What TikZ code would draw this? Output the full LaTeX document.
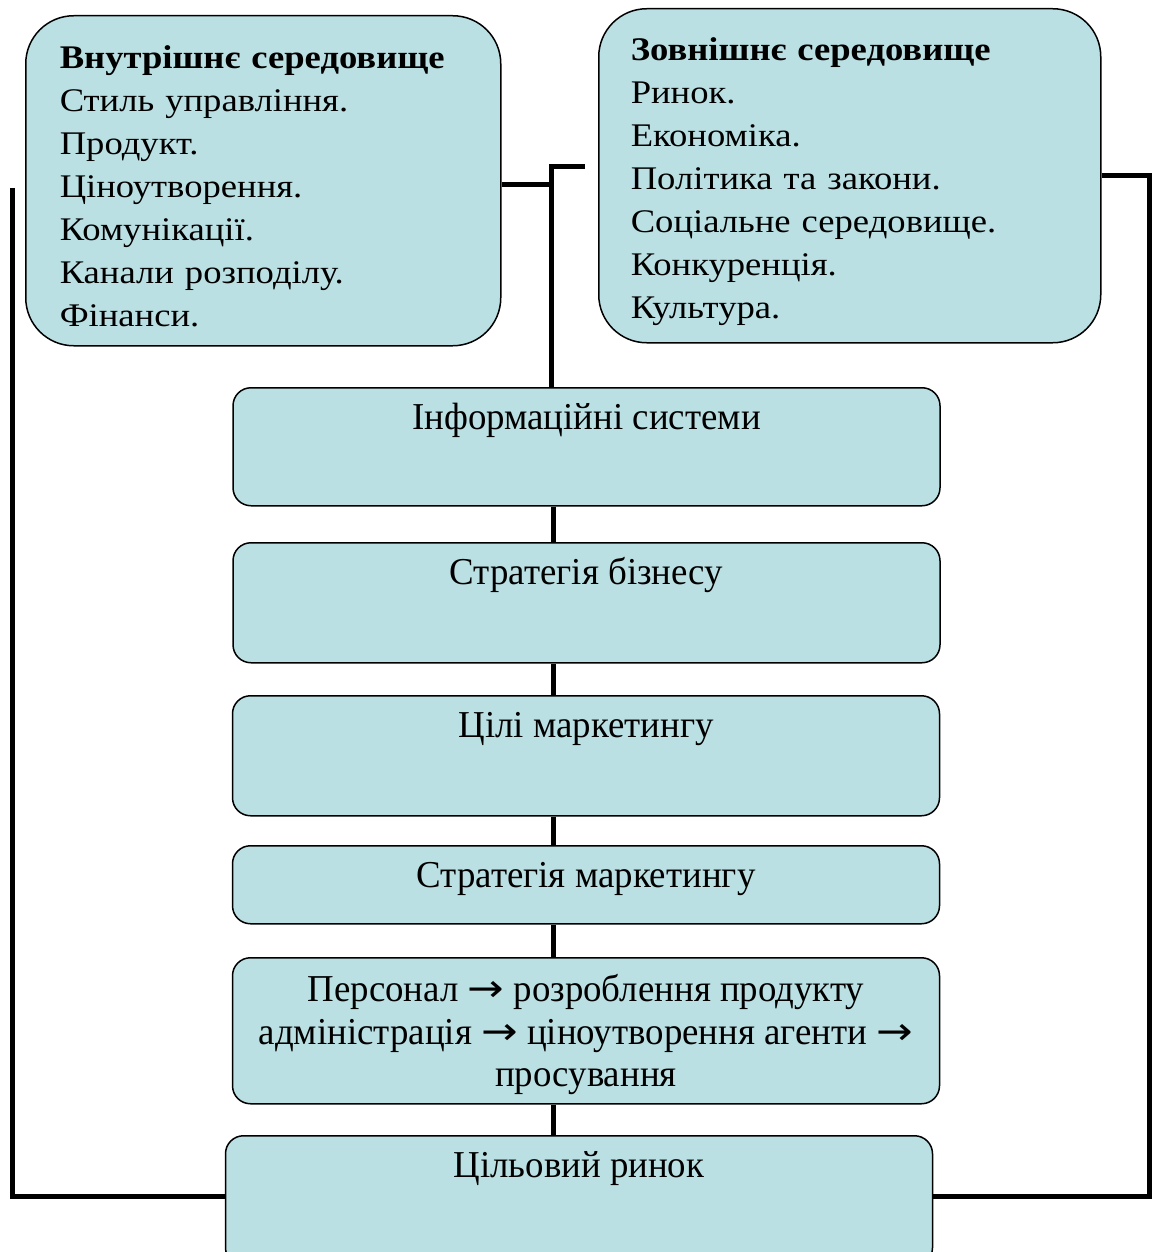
\documentclass[tikz,border=0pt]{standalone}
\usepackage{fontspec}
\setmainfont{Liberation Serif}
\newfontfamily\envfont[FakeStretch=1.11]{Liberation Serif}
\newfontfamily\stagefont[FakeStretch=0.97]{Liberation Serif}
\newfontfamily\arrowfont[FakeStretch=1.15]{DejaVu Sans}
\newcommand{\ra}{{\arrowfont →}}

\begin{document}
\begin{tikzpicture}[x=1pt,y=-1pt,
  envbox/.style={draw=black, line width=1.5pt, fill=boxblue, rounded corners=48pt,
    anchor=north west, align=left, inner xsep=34pt, inner ysep=0pt,
    font=\envfont\fontsize{33pt}{43pt}\selectfont},
  stagebox/.style={draw=black, line width=1.5pt, fill=boxblue, rounded corners=18pt,
    anchor=north, minimum width=707pt, inner ysep=12pt, text height=30pt,
    font=\stagefont\fontsize{38pt}{42.5pt}\selectfont},
  link/.style={line width=5pt, black}]
\definecolor{boxblue}{RGB}{187, 224, 227}
\useasboundingbox (0,0) rectangle (1151,1252);
% environment boxes
\node[envbox, minimum width=475pt, minimum height=330pt, text width=407pt] (inner) at (25,15)
  {\rule{0pt}{34pt}\textbf{Внутрішнє середовище}\\Стиль управління.\\Продукт.\\Ціноутворення.\\Комунікації.\\Канали розподілу.\\Фінанси.};
\node[envbox, inner xsep=32pt, minimum width=502pt, minimum height=334pt, text width=438pt] (outer) at (598,8)
  {\rule{0pt}{34pt}\textbf{Зовнішнє середовище}\\Ринок.\\Економіка.\\Політика та закони.\\Соціальне середовище.\\Конкуренція.\\Культура.};
% chain of stages
\node[stagebox, text depth=64pt] (info) at (586.5,387) {Інформаційні системи};
\node[stagebox, text depth=66pt] (biz) at (586.5,542) {Стратегія бізнесу};
\node[stagebox, text depth=66pt] (goals) at (586,695) {Цілі маркетингу};
\node[stagebox, text depth=24pt] (mstrat) at (586,845) {Стратегія маркетингу};
\node[stagebox, text height=, text depth=, inner ysep=0pt, minimum height=146pt, align=center] (staff) at (586,957)
  {\rule{0pt}{35pt}Персонал \ra{} розроблення продукту\\адміністрація \ra{} ціноутворення агенти \ra\\просування};
\node[stagebox, text depth=76pt] (target) at (579,1135) {Цільовий ринок};
% connectors
\coordinate (spine) at (553,0);
\coordinate (hook) at (551,167);
\coordinate (hookend) at (585,167);
\coordinate (lefttop) at (12,188);
\draw[link] ([yshift=-4pt]inner.east) -- ([yshift=-4pt]inner.east -| hook);
\draw[link] (hookend) -- (hook) -- (hook |- info.north);
\foreach \a/\b in {info/biz, biz/goals, goals/mstrat, mstrat/staff, staff/target}
  \draw[link] (spine |- \a.south) -- (spine |- \b.north);
\draw[link] (outer.east) -- ++(48,0) |- ([yshift=4pt]target.east);
\draw[link] (lefttop) |- ([yshift=4pt]target.west);
\end{tikzpicture}
\end{document}
